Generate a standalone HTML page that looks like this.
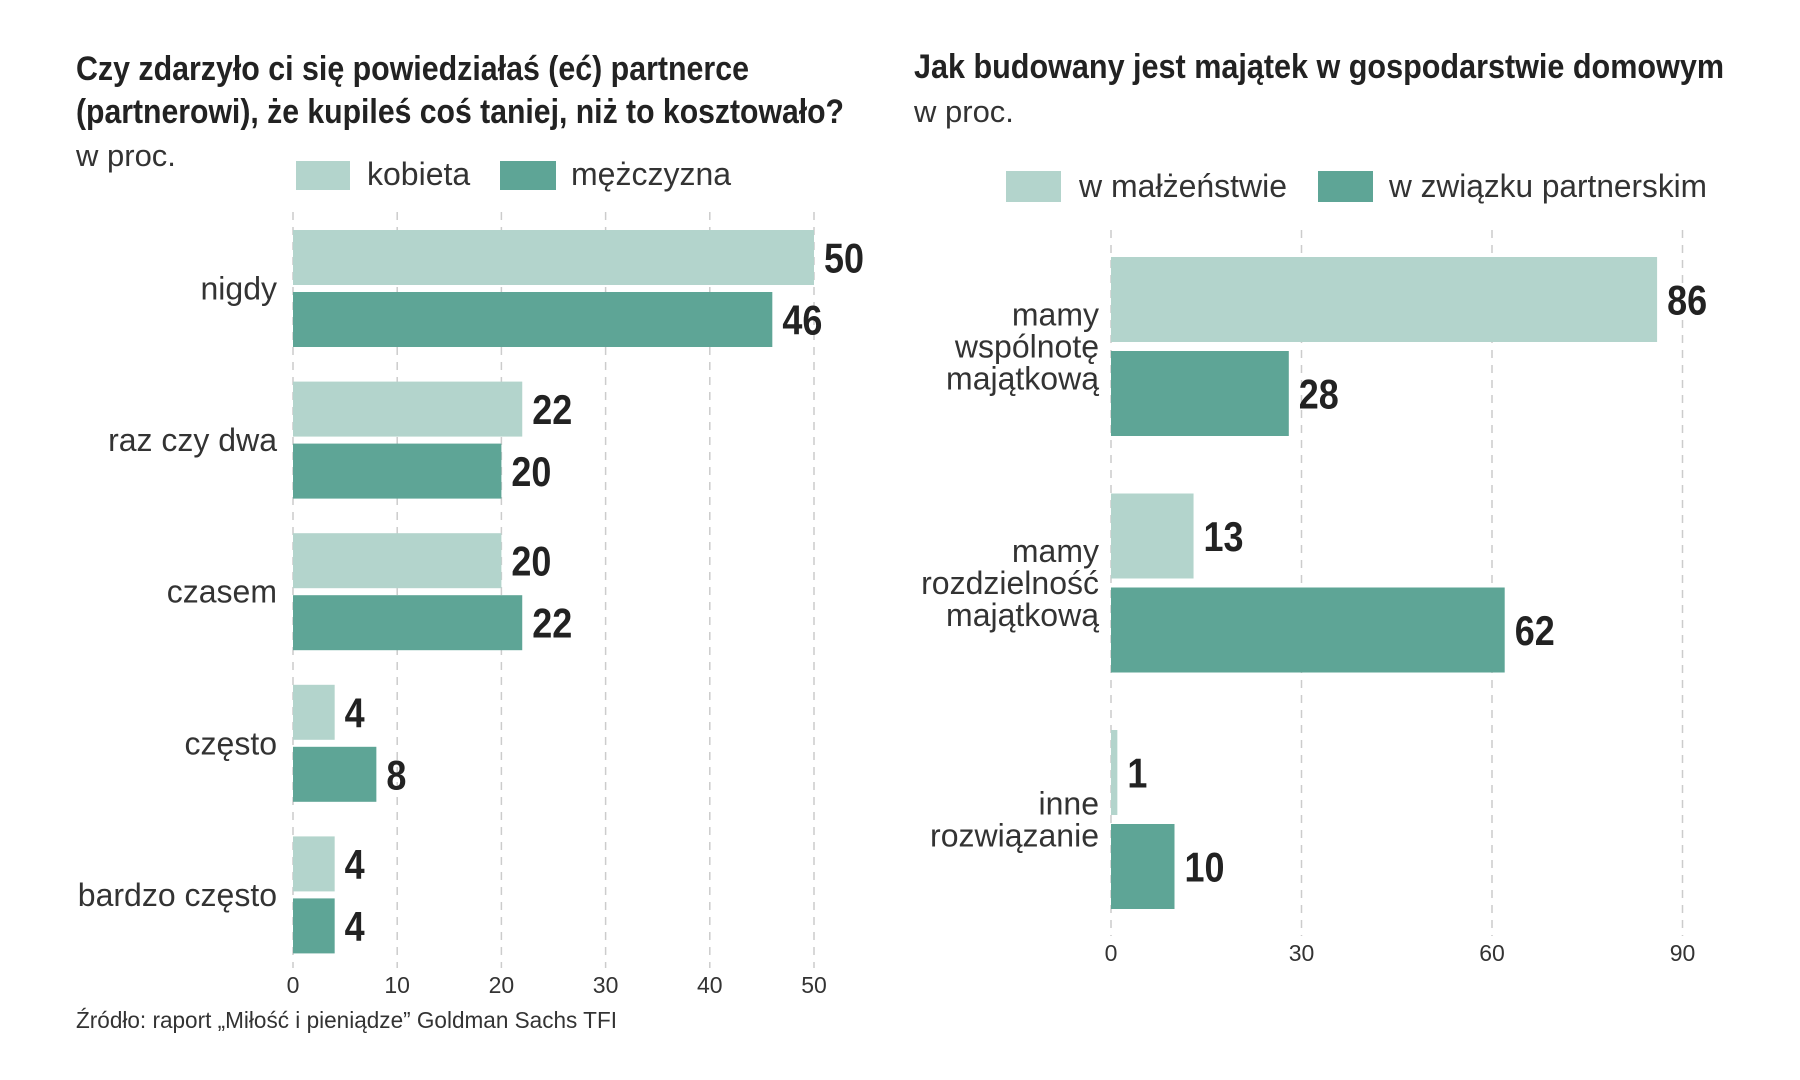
<!DOCTYPE html>
<html><head><meta charset="utf-8">
<style>
html,body{margin:0;padding:0;background:#fff;}
svg{display:block;}
.t{font-family:"Liberation Sans Narrow","Liberation Sans",sans-serif;}
</style></head>
<body>
<svg id="c" width="1800" height="1080" viewBox="0 0 1800 1080" xmlns="http://www.w3.org/2000/svg">
<rect width="1800" height="1080" fill="#fff"/>
<g class="t" fill="#222">
<text font-size="34" font-weight="bold"><tspan x="76" y="80" textLength="673" lengthAdjust="spacingAndGlyphs">Czy zdarzyło ci się powiedziałaś (eć) partnerce</tspan><tspan x="76" y="123" textLength="768" lengthAdjust="spacingAndGlyphs">(partnerowi), że kupileś coś taniej, niż to kosztowało?</tspan></text>
<text x="76" y="166" font-size="31" fill="#333">w proc.</text>
<text x="914" y="78" font-size="34" font-weight="bold" textLength="810" lengthAdjust="spacingAndGlyphs">Jak budowany jest majątek w gospodarstwie domowym</text>
<text x="914" y="122" font-size="31" fill="#333">w proc.</text>
<rect x="296" y="161" width="54" height="29" fill="#b3d4cc"/>
<text x="367" y="185" font-size="32" fill="#333">kobieta</text>
<rect x="500" y="161" width="56" height="29" fill="#5ea596"/>
<text x="571" y="185" font-size="32" fill="#333">mężczyzna</text>
<rect x="1006" y="171" width="55" height="31" fill="#b3d4cc"/>
<text x="1079" y="197" font-size="32" fill="#333">w małżeństwie</text>
<rect x="1318" y="171" width="55" height="31" fill="#5ea596"/>
<text x="1389" y="197" font-size="32" fill="#333" textLength="318" lengthAdjust="spacingAndGlyphs">w związku partnerskim</text>
<text x="76" y="1028" font-size="23" fill="#333" textLength="541" lengthAdjust="spacingAndGlyphs">Źródło: raport „Miłość i pieniądze” Goldman Sachs TFI</text>
</g>
<g id="left"></g>
<g id="right"></g>
</svg>
<script>
const leftCats=[["nigdy"],["raz czy dwa"],["czasem"],["często"],["bardzo często"]];
const leftWomen=[50,22,20,4,4];
const leftMen=[46,20,22,8,4];
const leftTicks=[0,10,20,30,40,50];
const rightCats=[["mamy","wspólnotę","majątkową"],["mamy","rozdzielność","majątkową"],["inne","rozwiązanie"]];
const rightMarried=[86,13,1];
const rightPartner=[28,62,10];
const rightTicks=[0,30,60,90];
const NS="http://www.w3.org/2000/svg";
function mk(parent,tag,attrs,text){const e=document.createElementNS(NS,tag);for(const k in attrs)e.setAttribute(k,attrs[k]);if(text!=null)e.textContent=text;parent.appendChild(e);return e;}
function draw(g,cfg){
  const x=v=>cfg.x0+v*cfg.pxPer;
  cfg.ticks.forEach(t=>{
    const l=mk(g,'line',{x1:x(t),x2:x(t),y1:cfg.gTop,y2:cfg.gBot,stroke:'#ccc','stroke-width':1.5,'stroke-dasharray':'8 7'});
    
    
    const tx=mk(g,'text',{x:x(t),y:cfg.tickY,'text-anchor':'middle','font-size':23,fill:'#333','class':'t'},String(t));
    
    
  });
  cfg.cats.forEach((c,i)=>{
    const y1=cfg.y0+i*cfg.pitch, y2=y1+cfg.bh+cfg.gap;
    [[cfg.s1[i],y1,'#b3d4cc',cfg.n1],[cfg.s2[i],y2,'#5ea596',cfg.n2]].forEach(([v,y,col,n])=>{
      const r=mk(g,'rect',{x:x(0),y:y,width:Math.max(x(v)-x(0),3),height:cfg.bh,fill:col});
      
      
      const s=String(v);
      const t=mk(g,'text',{x:x(v)+10,y:y+cfg.bh/2+15,'font-size':42,'font-weight':'bold',fill:'#222','class':'t',textLength:s.length*20,lengthAdjust:'spacingAndGlyphs'},s);
      
      
    });
    const mid=y1+cfg.bh+cfg.gap/2;
    const lh=32, n=c.length;
    c.forEach((line,j)=>{
      const t=mk(g,'text',{x:cfg.labX,y:mid+(j-(n-1)/2)*lh+11,'text-anchor':'end','font-size':32,fill:'#333','class':'t'},line);
      
      
    });
  });
}
draw(document.getElementById('left'),{x0:293,pxPer:10.42,ticks:leftTicks,gTop:212,gBot:968,tickY:993,cats:leftCats,s1:leftWomen,s2:leftMen,n1:'kobieta',n2:'mezczyzna',y0:230,pitch:151.6,bh:55,gap:7,labX:277});
draw(document.getElementById('right'),{x0:1111,pxPer:6.35,ticks:rightTicks,gTop:230,gBot:936,tickY:961,cats:rightCats,s1:rightMarried,s2:rightPartner,n1:'malzenstwo',n2:'zwiazek',y0:257,pitch:236.5,bh:85,gap:9,labX:1099});
</script>
</body></html>
